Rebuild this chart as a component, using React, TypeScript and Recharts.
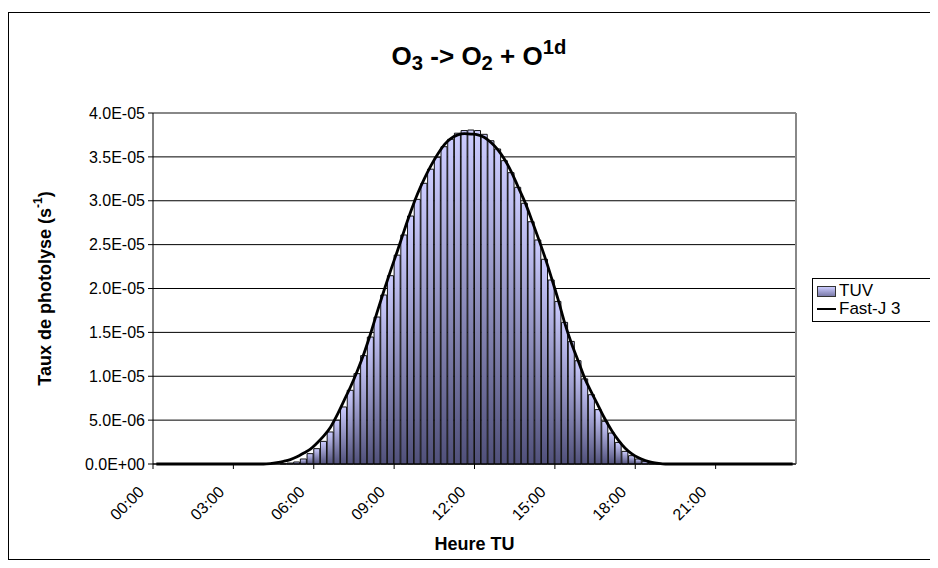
import { ComposedChart, Bar, Line, XAxis, YAxis, CartesianGrid, ReferenceLine } from "recharts";

// Categories: one bar every 15 minutes over the day
const times = Array.from(
	{ length: 96 },
	(_, i) => `${String(Math.floor(i / 4)).padStart(2, "0")}:${String((i % 4) * 15).padStart(2, "0")}`
);

// TUV photolysis rate (s-1)
const tuv = [
	0, 0, 0, 0, 0, 0, 0, 0, 0, 0, 0, 0, 0, 0, 0, 0, 0, 0, 0, 3e-8,
	1.1e-7, 2.3e-7, 5.7e-7, 1.18e-6, 1.75e-6, 2.58e-6, 3.65e-6, 4.98e-6, 6.5e-6, 8.4e-6,
	1.03e-5, 1.235e-5, 1.447e-5, 1.675e-5, 1.926e-5, 2.146e-5, 2.38e-5, 2.61e-5, 2.826e-5, 3.016e-5,
	3.199e-5, 3.36e-5, 3.495e-5, 3.616e-5, 3.7e-5, 3.77e-5, 3.8e-5, 3.806e-5, 3.8e-5, 3.757e-5,
	3.684e-5, 3.59e-5, 3.457e-5, 3.32e-5, 3.153e-5, 2.971e-5, 2.761e-5, 2.553e-5, 2.333e-5, 2.097e-5,
	1.853e-5, 1.614e-5, 1.397e-5, 1.177e-5, 9.7e-6, 7.9e-6, 6.2e-6, 4.86e-6, 3.53e-6, 2.46e-6,
	1.44e-6, 9.5e-7, 5.7e-7, 3.0e-7, 1.5e-7, 7e-8, 0, 0, 0, 0,
	0, 0, 0, 0, 0, 0, 0, 0, 0, 0, 0, 0, 0, 0, 0, 0,
];

// Fast-J 3 photolysis rate (s-1)
const fastJ = [
	0, 0, 0, 0, 0, 0, 0, 0, 0, 0, 0, 0, 0, 0, 0, 0, 0, 5e-8, 1.5e-7, 3e-7,
	5e-7, 8.2e-7, 1.25e-6, 1.7e-6, 2.4e-6, 3.2e-6, 4.2e-6, 5.6e-6, 7.2e-6, 8.8e-6,
	1.06e-5, 1.26e-5, 1.49e-5, 1.74e-5, 1.98e-5, 2.21e-5, 2.43e-5, 2.66e-5, 2.88e-5, 3.08e-5,
	3.25e-5, 3.4e-5, 3.53e-5, 3.64e-5, 3.71e-5, 3.75e-5, 3.765e-5, 3.76e-5, 3.75e-5, 3.72e-5,
	3.66e-5, 3.58e-5, 3.47e-5, 3.33e-5, 3.16e-5, 2.99e-5, 2.79e-5, 2.58e-5, 2.36e-5, 2.12e-5,
	1.87e-5, 1.6e-5, 1.37e-5, 1.17e-5, 9.7e-6, 8.1e-6, 6.6e-6, 5.1e-6, 3.8e-6, 2.7e-6,
	1.8e-6, 1.15e-6, 7e-7, 4e-7, 1.8e-7, 6e-8, 0, 0, 0, 0,
	0, 0, 0, 0, 0, 0, 0, 0, 0, 0, 0, 0, 0, 0, 0, 0,
];

// Axis ticks
const xTicks = [0, 3, 6, 9, 12, 15, 18, 21];
const xTickLabels = ["00:00", "03:00", "06:00", "09:00", "12:00", "15:00", "18:00", "21:00"];
const yTicks = [0, 5e-6, 1e-5, 1.5e-5, 2e-5, 2.5e-5, 3e-5, 3.5e-5, 4e-5];

// bar sits in the middle of its 15 minute slot
const data = times.map((t, i) => {
	const [h, m] = t.split(":").map(Number);
	return { time: t, hour: h + m / 60 + 0.125, tuv: tuv[i], fastJ: fastJ[i] };
});

const FONT = '"Liberation Sans", Arial, sans-serif';
const PLOT_W = 643;

const fmtSci = (v: number) => {
	const [m, e] = v.toExponential(1).split("e");
	const sign = e[0] === "-" ? "-" : "+";
	return `${m}E${sign}${e.replace(/^[+-]/, "").padStart(2, "0")}`;
};

const XTick = (props: any) => {
	const { x, y, payload } = props;
	const px = x - 8;
	const py = y + 22;
	return (
		<text x={px} y={py} transform={`rotate(-45, ${px}, ${py})`} textAnchor="end" fontSize={16} fill="#000">
			{xTickLabels[xTicks.indexOf(payload.value)]}
		</text>
	);
};

const XLabel = (props: any) => {
	const { viewBox } = props;
	return (
		<text x={viewBox.x + viewBox.width / 2} y={viewBox.y + 86} textAnchor="middle" fontSize={18} fontWeight="bold" fill="#000">
			Heure TU
		</text>
	);
};

const YLabel = (props: any) => {
	const { viewBox } = props;
	const cx = viewBox.x - 28;
	const cy = viewBox.y + viewBox.height / 2;
	return (
		<text x={cx} y={cy} transform={`rotate(-90, ${cx}, ${cy})`} textAnchor="middle" dominantBaseline="central" fontSize={18} fontWeight="bold" fill="#000">
			Taux de photolyse (s
			<tspan dy={-7} fontSize={12}>-1</tspan>
			<tspan dy={7}>)</tspan>
		</text>
	);
};

const sub = { fontSize: "0.78em", verticalAlign: "-0.25em" };

const App = () => {
	return (
		<div style={{ position: "relative", width: 930, height: 560, overflow: "hidden", fontFamily: FONT, background: "#fff" }}>
			{/* chart frame */}
			<div style={{ position: "absolute", left: 0, top: 4, width: 1000, height: 546, border: "1px solid #000" }} />

			<div style={{ position: "absolute", left: 171, top: 26, width: 600, textAlign: "center", fontSize: 26, fontWeight: "bold", lineHeight: "26px" }}>
				O<span style={sub}>3</span> -&gt; O<span style={sub}>2</span> + O
				<span style={{ fontSize: "0.78em", verticalAlign: "0.55em" }}>1d</span>
			</div>

			<ComposedChart
				width={930}
				height={560}
				data={data}
				margin={{ top: 105, right: 142, left: 65, bottom: 8 }}
				style={{ position: "absolute", left: 0, top: 0 }}
			>
				<defs>
					<linearGradient id="tuvGrad" x1="0" y1="0" x2="0" y2="1">
						<stop offset="0%" stopColor="#ccccff" />
						<stop offset="100%" stopColor="#50507a" />
					</linearGradient>
				</defs>
				<CartesianGrid vertical={false} stroke="#000" />
				<XAxis
					type="number"
					dataKey="hour"
					domain={[0, 24]}
					ticks={xTicks}
					interval={0}
					height={96}
					tick={<XTick />}
					tickSize={5}
					tickLine={{ stroke: "#000" }}
					axisLine={{ stroke: "#000" }}
					label={<XLabel />}
				/>
				<YAxis
					width={80}
					domain={[0, 4e-5]}
					ticks={yTicks}
					interval={0}
					tickFormatter={fmtSci}
					tick={{ fill: "#000", fontSize: 16 }}
					tickSize={5}
					tickMargin={3}
					tickLine={{ stroke: "#000" }}
					axisLine={{ stroke: "#000" }}
					label={<YLabel />}
				/>
				<ReferenceLine y={4e-5} stroke="#888" strokeWidth={2} />
				<ReferenceLine x={24} stroke="#888" strokeWidth={2} />
				<Bar
					dataKey="tuv"
					name="TUV"
					barSize={PLOT_W / 96}
					fill="url(#tuvGrad)"
					stroke="#111"
					strokeWidth={1}
					isAnimationActive={false}
				/>
				<Line
					dataKey="fastJ"
					name="Fast-J 3"
					type="monotone"
					stroke="#000"
					strokeWidth={2.8}
					dot={false}
					activeDot={false}
					isAnimationActive={false}
				/>
			</ComposedChart>

			{/* legend */}
			<div
				style={{
					position: "absolute",
					left: 804,
					top: 270,
					width: 160,
					border: "1px solid #000",
					background: "#fff",
					padding: "3px 4px",
					fontSize: 17,
					lineHeight: "18px",
				}}
			>
				<div style={{ display: "flex", alignItems: "center" }}>
					<span
						style={{
							display: "inline-block",
							width: 17,
							height: 9,
							border: "1px solid #333",
							background: "linear-gradient(#ccccff, #7a7aa8)",
							marginRight: 3,
						}}
					/>
					TUV
				</div>
				<div style={{ display: "flex", alignItems: "center" }}>
					<span style={{ display: "inline-block", width: 19, height: 2, background: "#000", marginRight: 3 }} />
					Fast-J 3
				</div>
			</div>
		</div>
	);
};

export default App;
